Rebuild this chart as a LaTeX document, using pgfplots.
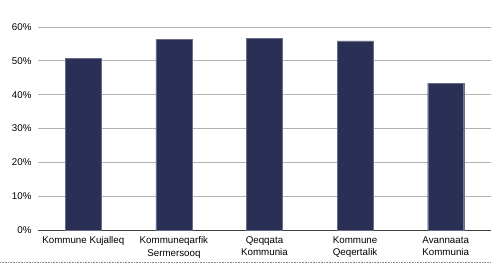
\documentclass[border=0pt]{standalone}
\usepackage{pgfplots}
\pgfplotsset{compat=1.18}
\usepackage{fontspec}
\setmainfont{Liberation Sans}
\definecolor{barnavy}{HTML}{2A2F55}
\begin{document}
\begin{tikzpicture}
\path[use as bounding box] (-38bp,-34bp) rectangle (453bp,230bp);
\begin{axis}[
  at={(0,0)}, anchor=south west,
  scale only axis, width=453bp, height=203bp,
  xmin=-0.5, xmax=4.5, ymin=0, ymax=60,
  axis x line*=bottom, axis y line*=left,
  x axis line style={draw=black!75, line width=0.8bp, -},
  y axis line style={draw=none},
  ytick={0,10,...,60},
  ymajorgrids, major grid style={draw=black!30, line width=0.9bp},
  xtick={0,1,2,3,4},
  xticklabels={Kommune Kujalleq, Kommuneqarfik\\Sermersooq, Qeqqata\\Kommunia, Kommune\\Qeqertalik, Avannaata\\Kommunia},
  xticklabel style={align=center, font=\fontsize{9.8}{12.5}\selectfont, anchor=north, yshift=-3bp},
  yticklabel style={font=\fontsize{9.8}{11}\selectfont, xshift=-3bp},
  yticklabel={\pgfmathprintnumber{\tick}\%},
  /pgf/number format/assume math mode=true,
  major tick length=0pt,
  tick style={draw=none},
  clip=false,
]
\addplot[ybar, bar width=36bp, fill=barnavy, draw=barnavy!70!white, line width=0.4bp]
  coordinates {(0,50.8) (1,56.4) (2,56.6) (3,55.9) (4,43.4)};
\end{axis}
\draw[black!45, densely dotted, line width=0.6bp] (-38bp,-32bp) -- (453bp,-32bp);
\end{tikzpicture}
\end{document}
